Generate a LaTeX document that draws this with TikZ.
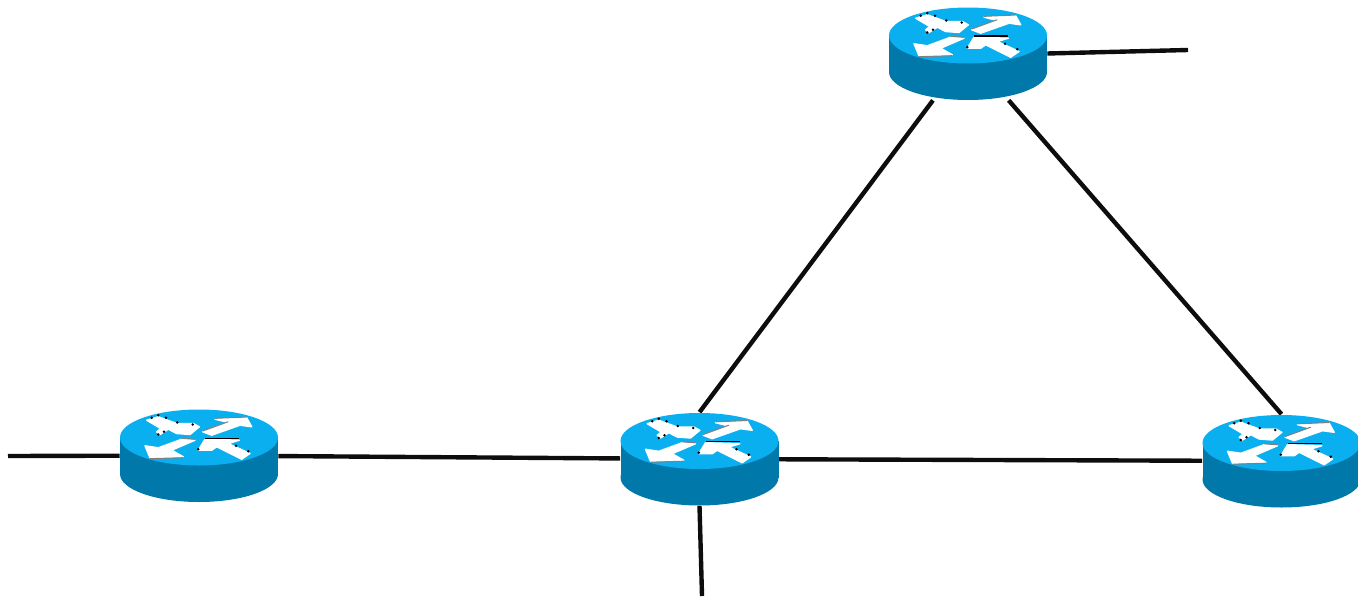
\documentclass[tikz,border=0pt]{standalone}
\usetikzlibrary{backgrounds}

\definecolor{routertop}{RGB}{10,175,240}
\definecolor{routerside}{RGB}{0,120,170}

\tikzset{
    link/.style={line width=2.5pt, black!95},
    routerarrow/.style={fill=white, draw=white, line width=0.8pt, line join=round},
    routerbody/.style={minimum width=3.16cm, minimum height=1.86cm, inner sep=0pt},
    pics/router/.style={code={
        \node[routerbody] (body) at (0, 0) {};
        \fill[routerside] (0, 18.5) ellipse [x radius=79, y radius=28];
        \fill[routerside] (-79, -18) rectangle (79, 18.5);
        \fill[routertop] (0, -18) ellipse [x radius=79, y radius=28];
        \path[routerarrow] (-52.3, -35.3) -- (-40.7, -38.7) -- (-22.3, -32) -- (-5.7, -32) -- (0.3, -28.7) -- (-9, -21) -- (-22.3, -22) -- (-30.7, -26.3) -- (-39, -21) -- (-42.3, -23.7) -- (-38.3, -27) -- cycle;
        \path[routerarrow] (3.7, -23.7) -- (29.3, -33) -- (16, -36.3) -- (47.7, -37.7) -- (52.7, -28.7) -- (41, -30.3) -- (12.7, -20.3) -- cycle;
        \path[routerarrow] (-54, -9.7) -- (-40.7, -7.7) -- (-17.3, -16.3) -- (-4, -15.3) -- (-27.3, -5.3) -- (-15.7, 1.3) -- (-49, 2.3) -- cycle;
        \path[routerarrow] (-0.7, -5.3) -- (6, -16.3) -- (40.3, -15.3) -- (29.3, -12) -- (51, -2) -- (42.7, 3.7) -- (17.7, -8.7) -- (12.7, -5.3) -- cycle;
        \draw[gray, line width=0.6pt] (3.7, -24.5) -- (29.3, -33.8) (16, -37.2) -- (47.7, -38.5);
        \draw[gray, line width=0.6pt] (-49, 3.2) -- (-15.7, 2.2) (-17.3, -17.2) -- (-4, -16.2);
        \draw[black, line width=0.8pt] (6, -17.3) -- (40.3, -17.3);
        \foreach \dotpos in {(-47.3, -37.7), (-40.7, -40.3), (-33, -37.7), (-21.7, -33), (-6.3, -31), (-40.7, -21), (-35, -23.7), (-0.7, -6.3), (37, -9.7), (49.3, -4.3)}
            \fill[black] \dotpos circle (1.4);
    }}
}

\begin{document}
\begin{tikzpicture}[x=0.02cm, y=-0.02cm]
    \useasboundingbox (0, 0) rectangle (1358, 598);

    \pic (left) at (199, 455.5) {router};
    \pic (middle) at (699.5, 459) {router};
    \pic (top) at (968, 53.5) {router};
    \pic (right) at (1281.5, 461) {router};

    \coordinate (leftend) at (8, 456);
    \coordinate (middleend) at (702, 596);
    \coordinate (topend) at (1188, 50);

    \begin{scope}[on background layer]
        \draw[link] (leftend) -- (leftbody);
        \draw[link] (leftbody) -- (middlebody);
        \draw[link] (middlebody) -- (rightbody);
        \draw[link] (middlebody.south) -- (middleend);
        \draw[link] (topbody) -- (middlebody.north);
        \draw[link] (topbody) -- (rightbody.north);
        \draw[link] (topbody.east) -- (topend);
    \end{scope}
\end{tikzpicture}
\end{document}
